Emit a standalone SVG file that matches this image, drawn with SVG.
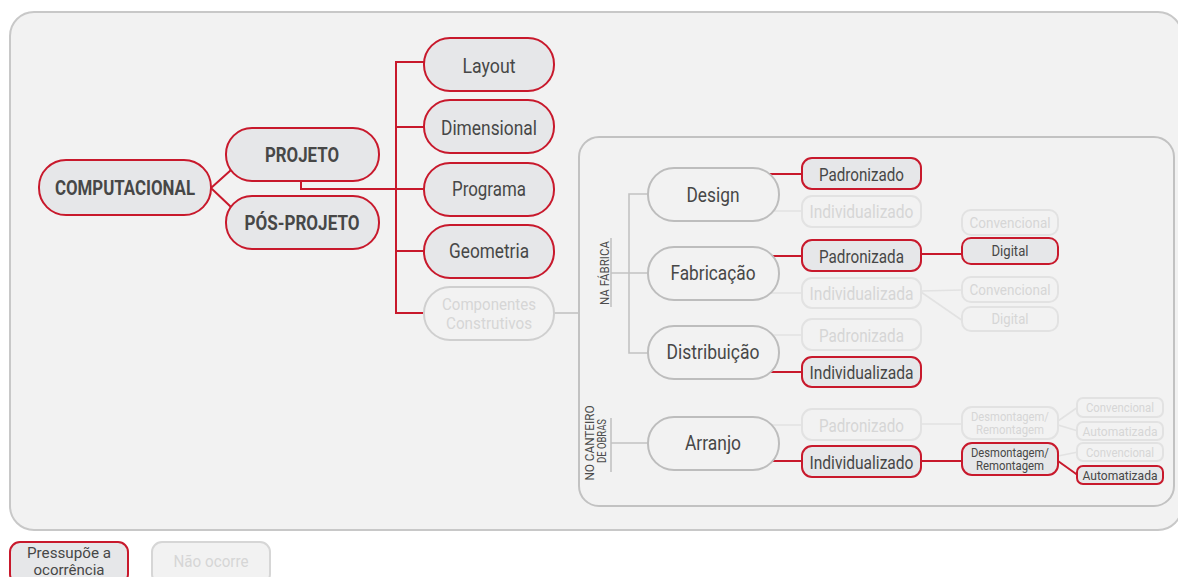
<svg xmlns="http://www.w3.org/2000/svg" width="1178" height="577" viewBox="0 0 1178 577">
  <style>
    text { font-family: Roboto, "Liberation Sans", sans-serif; text-anchor: middle; }
    .on rect { fill: #e6e7e9; stroke: #c8192c; stroke-width: 2; }
    .off rect { fill: #f2f2f2; stroke: #e2e2e2; stroke-width: 2; }
    .lvl rect { fill: #f2f2f2; stroke: #bdbdbd; stroke-width: 2; }
    .on text, .lvl text { fill: #474747; }
    .off text { fill: #d6d6d6; }
    .b { font-weight: bold; font-size: 20px; }
    .t18 { font-size: 21px; }
    .t16 { font-size: 18px; }
    .t19 { font-size: 21px; }
    .t14 { font-size: 15.5px; }
    .t12 { font-size: 13px; }
    .t11 { font-size: 13px; }
    .two { font-size: 17px; }
    .red { stroke: #c8192c; stroke-width: 2; fill: none; }
    .grey { stroke: #c2c2c2; stroke-width: 1.6; fill: none; }
    .faint { stroke: #e2e2e2; stroke-width: 1.6; fill: none; }
    .lbl { font-size: 13px; fill: #4b4b4b; }
  </style>

  <!-- panels -->
  <rect x="10" y="12" width="1172" height="518" rx="24" fill="#f2f2f2" stroke="#c8c8c8" stroke-width="2"/>
  <rect x="579" y="137" width="595" height="369" rx="20" fill="#f2f2f2" stroke="#c2c2c2" stroke-width="2"/>

  <!-- connectors -->
  <g id="connectors">
    <path class="red" d="M211 188 L231 170 M211 188 L231 207"/>
    <path class="red" d="M424 62 H396 V313 H424 M396 127 H424 M396 251 H424 M301 180 V189 H424"/>
    <path class="grey" d="M554 313 H579"/>
    <!-- na fábrica -->
    <path class="grey" d="M611 238 V307 M611 273 H648 M648 194 H629 V353 H648"/>
    <!-- no canteiro -->
    <path class="grey" d="M611 418 V472 M611 443 H649"/>
    <!-- level 1 to level 2 -->
    <path class="red" d="M760 174 H802 M760 256 H802 M760 372 H802 M760 461 H802"/>
    <path class="faint" d="M760 211 H802 M760 293 H802 M760 335 H802 M760 425 H802"/>
    <!-- level 2 to level 3 -->
    <path class="red" d="M921 254 H962 M921 461 H962"/>
    <path class="faint" d="M921 291 L962 290 M921 292 L963 321 M921 424 H962"/>
    <!-- level 3 to level 4 -->
    <path class="faint" d="M1058 421 L1078 407 M1058 425 L1078 431 M1058 456 L1078 452"/>
    <path class="red" d="M1058 461 L1079 476"/>
  </g>

  <!-- main branch -->
  <g id="computacional" class="on"><rect x="39" y="160" width="172" height="55" rx="27"/><text class="b" x="125" y="195" textLength="140" lengthAdjust="spacingAndGlyphs">COMPUTACIONAL</text></g>
  <g id="projeto" class="on"><rect x="226" y="128" width="153" height="53" rx="26"/><text class="b" x="302" y="162" textLength="74" lengthAdjust="spacingAndGlyphs">PROJETO</text></g>
  <g id="pos-projeto" class="on"><rect x="226" y="196" width="153" height="53" rx="26"/><text class="b" x="302" y="230" textLength="115" lengthAdjust="spacingAndGlyphs">PÓS-PROJETO</text></g>

  <g id="layout" class="on"><rect x="424" y="38" width="130" height="53" rx="26"/><text class="t18" x="489" y="73" textLength="53" lengthAdjust="spacingAndGlyphs">Layout</text></g>
  <g id="dimensional" class="on"><rect x="424" y="100" width="130" height="53" rx="26"/><text class="t18" x="489" y="135" textLength="96" lengthAdjust="spacingAndGlyphs">Dimensional</text></g>
  <g id="programa" class="on"><rect x="424" y="163" width="130" height="53" rx="26"/><text class="t18" x="489" y="196" textLength="74" lengthAdjust="spacingAndGlyphs">Programa</text></g>
  <g id="geometria" class="on"><rect x="424" y="225" width="130" height="53" rx="26"/><text class="t18" x="489" y="258" textLength="80" lengthAdjust="spacingAndGlyphs">Geometria</text></g>
  <g id="componentes" class="off"><rect x="424" y="287" width="130" height="53" rx="26" style="stroke:#cfcfcf"/><text class="two" x="489" y="310" textLength="94" lengthAdjust="spacingAndGlyphs">Componentes</text><text class="two" x="489" y="329" textLength="86" lengthAdjust="spacingAndGlyphs">Construtivos</text></g>

  <!-- group labels -->
  <g id="na-fabrica"><text class="lbl" transform="translate(609 273) rotate(-90)" textLength="64" lengthAdjust="spacingAndGlyphs">NA FÁBRICA</text></g>
  <g id="no-canteiro">
    <text class="lbl" transform="translate(594 443) rotate(-90)" textLength="75" lengthAdjust="spacingAndGlyphs">NO CANTEIRO</text>
    <text class="lbl" transform="translate(606 441) rotate(-90)" textLength="44" lengthAdjust="spacingAndGlyphs">DE OBRAS</text>
  </g>

  <!-- level 1 -->
  <g id="design" class="lvl"><rect x="648" y="168" width="131" height="53" rx="26"/><text class="t19" x="713" y="202" textLength="53" lengthAdjust="spacingAndGlyphs">Design</text></g>
  <g id="fabricacao" class="lvl"><rect x="648" y="247" width="131" height="53" rx="26"/><text class="t19" x="713" y="280" textLength="85" lengthAdjust="spacingAndGlyphs">Fabricação</text></g>
  <g id="distribuicao" class="lvl"><rect x="648" y="326" width="131" height="53" rx="26"/><text class="t19" x="713" y="359" textLength="93" lengthAdjust="spacingAndGlyphs">Distribuição</text></g>
  <g id="arranjo" class="lvl"><rect x="648" y="417" width="131" height="53" rx="26"/><text class="t19" x="713" y="450" textLength="56" lengthAdjust="spacingAndGlyphs">Arranjo</text></g>

  <!-- level 2 -->
  <g id="design-padronizado" class="on"><rect x="802" y="158" width="119" height="31" rx="10"/><text class="t16" x="861.5" y="181" textLength="85" lengthAdjust="spacingAndGlyphs">Padronizado</text></g>
  <g id="design-individualizado" class="off"><rect x="802" y="196" width="119" height="31" rx="10"/><text class="t16" x="861.5" y="218" textLength="104" lengthAdjust="spacingAndGlyphs">Individualizado</text></g>
  <g id="fab-padronizada" class="on"><rect x="802" y="240" width="119" height="31" rx="10"/><text class="t16" x="861.5" y="263" textLength="85" lengthAdjust="spacingAndGlyphs">Padronizada</text></g>
  <g id="fab-individualizada" class="off"><rect x="802" y="278" width="119" height="30" rx="10"/><text class="t16" x="861.5" y="300" textLength="104" lengthAdjust="spacingAndGlyphs">Individualizada</text></g>
  <g id="dist-padronizada" class="off"><rect x="802" y="319" width="119" height="31" rx="10"/><text class="t16" x="861.5" y="342" textLength="85" lengthAdjust="spacingAndGlyphs">Padronizada</text></g>
  <g id="dist-individualizada" class="on"><rect x="802" y="357" width="119" height="30" rx="10"/><text class="t16" x="861.5" y="379" textLength="104" lengthAdjust="spacingAndGlyphs">Individualizada</text></g>
  <g id="arr-padronizado" class="off"><rect x="802" y="409" width="119" height="31" rx="10"/><text class="t16" x="861.5" y="432" textLength="85" lengthAdjust="spacingAndGlyphs">Padronizado</text></g>
  <g id="arr-individualizado" class="on"><rect x="802" y="446" width="119" height="31" rx="10"/><text class="t16" x="861.5" y="469" textLength="104" lengthAdjust="spacingAndGlyphs">Individualizado</text></g>

  <!-- level 3 -->
  <g id="fab-pad-convencional" class="off"><rect x="962" y="210" width="96" height="25" rx="9"/><text class="t14" x="1010" y="228" textLength="81" lengthAdjust="spacingAndGlyphs">Convencional</text></g>
  <g id="fab-pad-digital" class="on"><rect x="962" y="238" width="96" height="26" rx="9"/><text class="t14" x="1010" y="256" textLength="37" lengthAdjust="spacingAndGlyphs">Digital</text></g>
  <g id="fab-ind-convencional" class="off"><rect x="962" y="277" width="96" height="25" rx="9"/><text class="t14" x="1010" y="295" textLength="81" lengthAdjust="spacingAndGlyphs">Convencional</text></g>
  <g id="fab-ind-digital" class="off"><rect x="962" y="307" width="96" height="24" rx="9"/><text class="t14" x="1010" y="324" textLength="37" lengthAdjust="spacingAndGlyphs">Digital</text></g>
  <g id="arr-pad-desmontagem" class="off"><rect x="962" y="407" width="96" height="32" rx="10"/><text class="t12" x="1010" y="421" textLength="78" lengthAdjust="spacingAndGlyphs">Desmontagem/</text><text class="t12" x="1010" y="434" textLength="68" lengthAdjust="spacingAndGlyphs">Remontagem</text></g>
  <g id="arr-ind-desmontagem" class="on"><rect x="962" y="443" width="96" height="32" rx="10"/><text class="t12" x="1010" y="457" textLength="78" lengthAdjust="spacingAndGlyphs">Desmontagem/</text><text class="t12" x="1010" y="470" textLength="68" lengthAdjust="spacingAndGlyphs">Remontagem</text></g>

  <!-- level 4 -->
  <g id="pad-des-convencional" class="off"><rect x="1077" y="398" width="86" height="19" rx="6"/><text class="t11" x="1120" y="412" textLength="68" lengthAdjust="spacingAndGlyphs">Convencional</text></g>
  <g id="pad-des-automatizada" class="off"><rect x="1077" y="422" width="86" height="18" rx="6"/><text class="t11" x="1120" y="436" textLength="75" lengthAdjust="spacingAndGlyphs">Automatizada</text></g>
  <g id="ind-des-convencional" class="off"><rect x="1077" y="443" width="86" height="18" rx="6"/><text class="t11" x="1120" y="457" textLength="68" lengthAdjust="spacingAndGlyphs">Convencional</text></g>
  <g id="ind-des-automatizada" class="on"><rect x="1077" y="466" width="86" height="18" rx="6"/><text class="t11" x="1120" y="480" textLength="75" lengthAdjust="spacingAndGlyphs">Automatizada</text></g>

  <!-- legend -->
  <g id="legend-occurs" class="on"><rect x="10" y="542" width="118" height="42" rx="10"/><text x="69" y="558" style="font-size:15.5px" textLength="84" lengthAdjust="spacingAndGlyphs">Pressupõe a</text><text x="69" y="575" style="font-size:15.5px" textLength="71" lengthAdjust="spacingAndGlyphs">ocorrência</text></g>
  <g id="legend-none" class="off"><rect x="152" y="542" width="118" height="42" rx="10" style="stroke:#d6d6d6"/><text x="211" y="567" style="font-size:17px" textLength="75" lengthAdjust="spacingAndGlyphs">Não ocorre</text></g>
</svg>
